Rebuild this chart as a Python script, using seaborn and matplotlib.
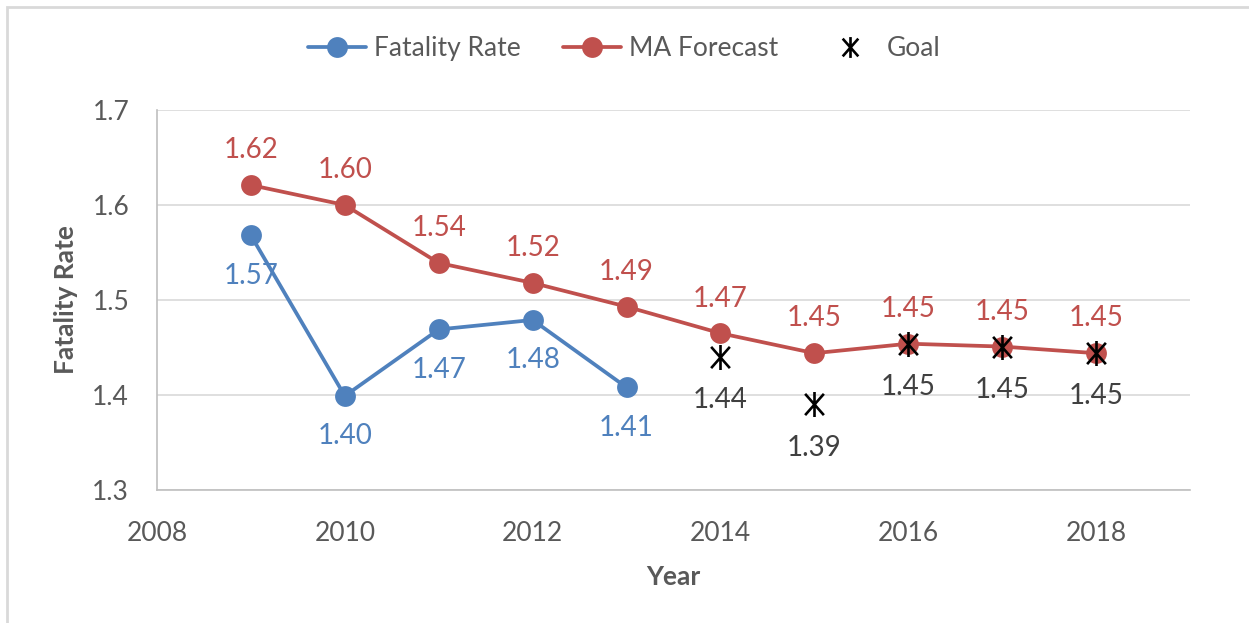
import matplotlib
matplotlib.use("Agg")
import matplotlib.pyplot as plt
from matplotlib.lines import Line2D
from matplotlib.path import Path
import seaborn as sns
import pandas as pd

# ---------- DATA ----------
years_actual = [2009, 2010, 2011, 2012, 2013]
fatality_rate = [1.568, 1.399, 1.469, 1.479, 1.408]
fatality_labels = ["1.57", "1.40", "1.47", "1.48", "1.41"]

years_ma = [2009, 2010, 2011, 2012, 2013, 2014, 2015, 2016, 2017, 2018]
ma_forecast = [1.621, 1.600, 1.539, 1.518, 1.493, 1.465, 1.444, 1.454, 1.451, 1.444]
ma_labels = ["1.62", "1.60", "1.54", "1.52", "1.49", "1.47", "1.45", "1.45", "1.45", "1.45"]

years_goal = [2014, 2015, 2016, 2017, 2018]
goal = [1.440, 1.390, 1.454, 1.451, 1.444]
goal_labels = ["1.44", "1.39", "1.45", "1.45", "1.45"]

x_ticks = [2008, 2010, 2012, 2014, 2016, 2018]
y_ticks = [1.3, 1.4, 1.5, 1.6, 1.7]

BLUE = "#4F81BD"
RED = "#C0504D"
TEXT = "#595959"
GRID = "#D9D9D9"

# Excel-style star: vertical bar plus an X
STAR = Path(
    [(0, -1), (0, 1), (-0.75, -0.85), (0.75, 0.85), (-0.75, 0.85), (0.75, -0.85)],
    [Path.MOVETO, Path.LINETO, Path.MOVETO, Path.LINETO, Path.MOVETO, Path.LINETO],
)

sns.set_theme(style="white")
plt.rcParams["font.family"] = ["Lato", "DejaVu Sans"]

df_actual = pd.DataFrame({"Year": years_actual, "Rate": fatality_rate})
df_ma = pd.DataFrame({"Year": years_ma, "Rate": ma_forecast})
df_goal = pd.DataFrame({"Year": years_goal, "Rate": goal})

fig = plt.figure(figsize=(12.49, 6.23), dpi=100)
ax = fig.add_axes([0.1257, 0.2135, 0.8271, 0.6099])

# ---------- LINES ----------
sns.lineplot(data=df_ma, x="Year", y="Rate", ax=ax, color=RED, linewidth=2.7,
             marker="o", markersize=15, markeredgewidth=0, zorder=3)
sns.lineplot(data=df_actual, x="Year", y="Rate", ax=ax, color=BLUE, linewidth=2.7,
             marker="o", markersize=15, markeredgewidth=0, zorder=3)
ax.plot(df_goal["Year"], df_goal["Rate"], linestyle="none", marker=STAR,
        markersize=18, markeredgewidth=1.9, color="black", zorder=4)

# ---------- DATA LABELS ----------
for x, y, t in zip(years_ma, ma_forecast, ma_labels):
    ax.annotate(t, (x, y), xytext=(0, 25), textcoords="offset points",
                ha="center", va="center", fontsize=20, color=RED)
for x, y, t in zip(years_actual, fatality_rate, fatality_labels):
    ax.annotate(t, (x, y), xytext=(0, -29), textcoords="offset points",
                ha="center", va="center", fontsize=20, color=BLUE)
for x, y, t in zip(years_goal, goal, goal_labels):
    ax.annotate(t, (x, y), xytext=(0, -31), textcoords="offset points",
                ha="center", va="center", fontsize=20, color="#404040")

# ---------- AXES ----------
ax.set_xlim(2008, 2019)
ax.set_ylim(1.3, 1.7)
ax.set_xticks(x_ticks)
ax.set_yticks(y_ticks)
ax.set_yticklabels([f"{v:.1f}" for v in y_ticks])
ax.tick_params(axis="both", length=0, labelsize=19, labelcolor=TEXT)
ax.tick_params(axis="y", pad=20)
ax.tick_params(axis="x", pad=22)
ax.yaxis.grid(True, color=GRID, linewidth=1.2)
ax.set_axisbelow(True)
for side in ["top", "right"]:
    ax.spines[side].set_visible(False)
for side in ["left", "bottom"]:
    ax.spines[side].set_color("#BFBFBF")
    ax.spines[side].set_linewidth(1.2)

ax.set_xlabel("Year", fontsize=19, fontweight="bold", color=TEXT, labelpad=14)
ax.set_ylabel("Fatality Rate", fontsize=19, fontweight="bold", color=TEXT, labelpad=10)

# ---------- LEGEND ----------
handles = [
    Line2D([], [], color=BLUE, linewidth=2.7, marker="o", markersize=15, markeredgewidth=0),
    Line2D([], [], color=RED, linewidth=2.7, marker="o", markersize=15, markeredgewidth=0),
    Line2D([], [], color="black", linestyle="none", marker=STAR, markersize=15,
           markeredgewidth=1.9),
]
leg = fig.legend(handles, ["Fatality Rate", "MA Forecast", "Goal"], loc="center",
                 bbox_to_anchor=(0.5, 0.922), ncol=3, frameon=False, fontsize=19,
                 handlelength=2.2, handletextpad=0.3, columnspacing=1.6)
for t in leg.get_texts():
    t.set_color(TEXT)

# outer chart border (top and left visible)
fig.add_artist(plt.Rectangle((7 / 1249, -0.1), 1.2, 1 - 7 / 623 + 0.1,
                             transform=fig.transFigure, fill=False,
                             edgecolor="#D9D9D9", linewidth=2))

fig.savefig("out.png", dpi=100)
